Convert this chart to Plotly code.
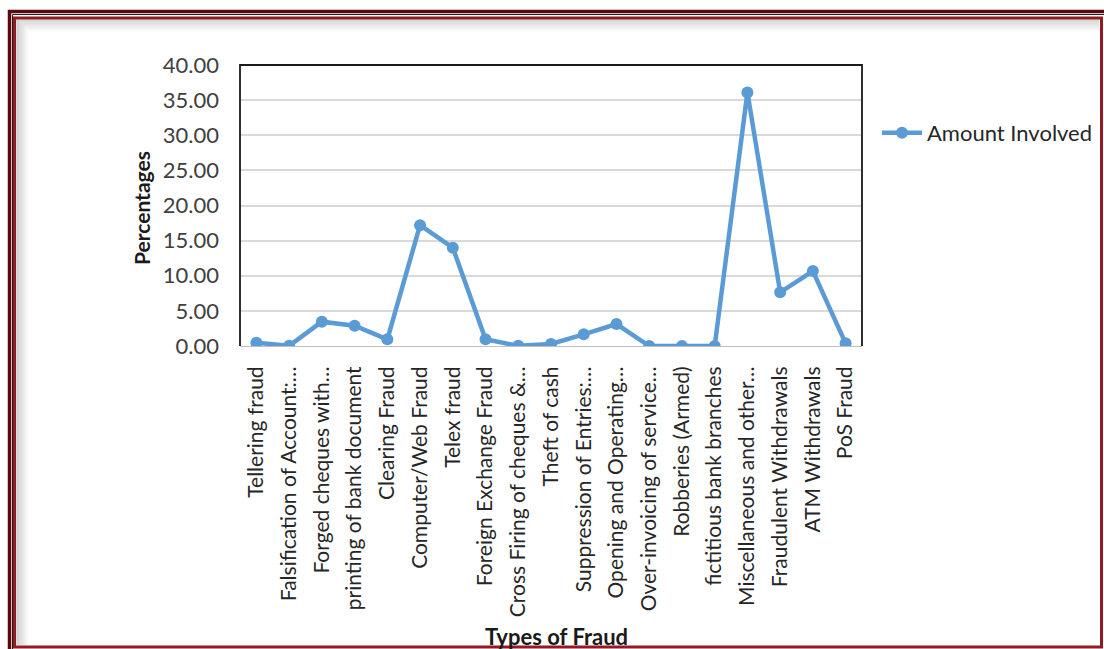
import plotly.graph_objects as go

categories = [
    "Tellering fraud", "Falsification of Account:…", "Forged cheques with…",
    "printing of bank document", "Clearing Fraud", "Computer/Web Fraud",
    "Telex fraud", "Foreign Exchange Fraud", "Cross Firing of cheques &…",
    "Theft of cash", "Suppression of Entries:…", "Opening and Operating…",
    "Over-invoicing of service…", "Robberies (Armed)", "fictitious bank branches",
    "Miscellaneous and other…", "Fraudulent Withdrawals", "ATM Withdrawals",
    "PoS Fraud",
]
amount_involved = [0.47, 0.02, 3.46, 2.89, 0.95, 17.2, 14.0, 0.95, 0.02, 0.28,
                   1.66, 3.13, 0.0, 0.0, 0.0, 36.1, 7.64, 10.67, 0.38]
y_ticks = [0, 5, 10, 15, 20, 25, 30, 35, 40]

W, H = 1104, 649
L, R, T, B = 240, 862, 65, 346
FONT = "Lato, Carlito, 'Liberation Sans', sans-serif"
BLUE = "#5B9BD5"


def px(x):
    return (x - L) / (R - L)


def py(y):
    return (B - y) / (B - T)


fig = go.Figure()
fig.add_trace(go.Scatter(
    x=categories, y=amount_involved, mode="lines+markers",
    name="Amount Involved",
    line=dict(color=BLUE, width=4.5),
    marker=dict(color=BLUE, size=12),
))

shapes = []
# inner shading (shadow gradient) along top and left edges of the frame
for i in range(12):
    g = int(200 + i * 4.5)
    col = f"rgb({g},{g},{g})"
    shapes.append(dict(type="line", xref="paper", yref="paper",
                       x0=px(16 + i), x1=px(1099), y0=py(20 + i), y1=py(20 + i),
                       line=dict(color=col, width=1.2), layer="below"))
    shapes.append(dict(type="line", xref="paper", yref="paper",
                       x0=px(17 + i), x1=px(17 + i), y0=py(20 + i), y1=py(645),
                       line=dict(color=col, width=1.2), layer="below"))
# outer dark frame
shapes.append(dict(type="rect", xref="paper", yref="paper",
                   x0=px(9.5), x1=px(1125), y0=py(11.5), y1=py(700),
                   line=dict(color="#5a0a0f", width=3.5), layer="above"))
shapes.append(dict(type="rect", xref="paper", yref="paper",
                   x0=px(12.5), x1=px(1125), y0=py(14.5), y1=py(700),
                   line=dict(color="#2a1a1a", width=1), layer="above"))
# inner red frame
shapes.append(dict(type="rect", xref="paper", yref="paper",
                   x0=px(14.5), x1=px(1101.5), y0=py(18), y1=py(647),
                   line=dict(color="#8e1c22", width=3), layer="above"))
# plot-area border (left, top, right) in black
shapes.append(dict(type="path", xref="paper", yref="paper",
                   path="M 0 0 L 0 1 L 1 1 L 1 0",
                   line=dict(color="#1a1a1a", width=1.8), layer="above"))

fig.update_layout(
    width=W, height=H,
    margin=dict(l=L, r=W - R, t=T, b=H - B, autoexpand=False),
    paper_bgcolor="white", plot_bgcolor="white",
    font=dict(family=FONT, size=22, color="#404040"),
    showlegend=True,
    legend=dict(x=px(877), y=py(133), xanchor="left", yanchor="middle",
                font=dict(family=FONT, size=22, color="#262626"),
                bgcolor="rgba(0,0,0,0)", itemwidth=40),
    shapes=shapes,
    xaxis=dict(
        type="category", tickangle=-90, showgrid=False, automargin=False,
        showline=True, linecolor="#bfbfbf", linewidth=1,
        ticks="", ticklabelstandoff=11,
        tickfont=dict(family=FONT, size=21, color="#262626"),
        range=[-0.5, len(categories) - 0.5],
    ),
    yaxis=dict(
        range=[0, 40], tickvals=y_ticks, tickformat=".2f", automargin=False,
        showgrid=True, gridcolor="#d9d9d9", gridwidth=1.5,
        zeroline=False, showline=False, ticks="",
        ticklabelstandoff=20,
        tickfont=dict(family=FONT, size=22, color="#404040"),
    ),
    annotations=[
        dict(text="<b>Percentages</b>", xref="paper", yref="paper",
             x=px(141), y=py(208), textangle=-90, showarrow=False,
             font=dict(family=FONT, size=21, color="#1a1a1a"),
             xanchor="center", yanchor="middle"),
        dict(text="<b>Types of Fraud</b>", xref="paper", yref="paper",
             x=px(556), y=py(636), showarrow=False,
             font=dict(family=FONT, size=22, color="#1a1a1a"),
             xanchor="center", yanchor="middle"),
    ],
)

fig.write_html("out.html")
